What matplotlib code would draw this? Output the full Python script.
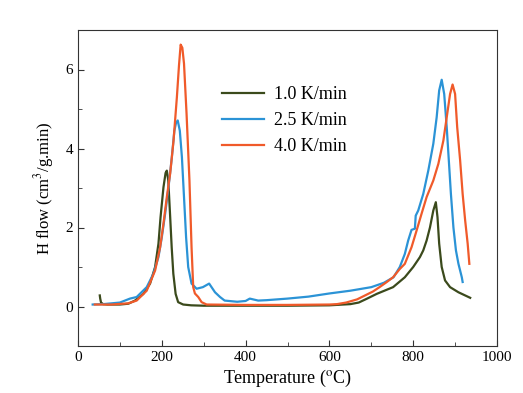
import matplotlib.pyplot as plt
from matplotlib.ticker import MultipleLocator

plt.rcParams['font.family'] = ['Liberation Serif', 'DejaVu Serif']
plt.rcParams['mathtext.fontset'] = 'stix'

# 1.0 K/min
green_t = [52, 53, 55, 60, 70, 100, 120, 136, 156, 172, 184, 192, 197, 204, 209, 212, 215.5, 219.6,
           223.6, 227.5, 233, 239, 251, 270, 300, 400, 500, 600, 650, 670, 690, 713, 752, 780, 800,
           816, 824, 832, 840, 848, 854, 858, 862, 868, 876, 888, 908, 924, 936]
green_h = [0.28, 0.2, 0.1, 0.06, 0.05, 0.05, 0.07, 0.15, 0.32, 0.58, 1.0, 1.59, 2.26, 3.02, 3.38,
           3.44, 3.19, 2.35, 1.5, 0.83, 0.32, 0.11, 0.05, 0.03, 0.02, 0.02, 0.02, 0.03, 0.06, 0.1,
           0.2, 0.32, 0.49, 0.74, 1.0, 1.25, 1.42, 1.67, 2.0, 2.43, 2.64, 2.26, 1.59, 1.0, 0.66,
           0.49, 0.36, 0.28, 0.22]

# 2.5 K/min
blue_t = [35, 60, 100, 124, 140, 164, 180, 192, 200, 208, 216, 224, 230, 234, 238, 243, 248, 253,
          258, 263, 271, 283, 298, 313, 327, 339, 350, 380, 400, 410, 418, 430, 450, 500, 550, 600,
          650, 700, 730, 753, 768, 780, 788, 796, 804, 806, 812, 824, 836, 848, 856, 862, 868, 874,
          880, 885, 890, 896, 902, 908, 912, 916, 918]
blue_h = [0.05, 0.06, 0.1, 0.2, 0.24, 0.49, 0.83, 1.25, 1.75, 2.35, 3.02, 3.78, 4.45, 4.65, 4.71,
          4.45, 3.78, 2.77, 1.75, 1.0, 0.58, 0.45, 0.49, 0.58, 0.36, 0.24, 0.15, 0.12, 0.14, 0.2,
          0.18, 0.15, 0.16, 0.2, 0.25, 0.33, 0.4, 0.49, 0.6, 0.74, 1.0, 1.33, 1.67, 1.94, 1.97,
          2.3, 2.43, 2.85, 3.44, 4.12, 4.79, 5.47, 5.74, 5.38, 4.54, 3.7, 2.85, 2.0, 1.42, 1.08,
          0.91, 0.74, 0.62]

# 4.0 K/min
red_t = [40, 80, 120, 140, 164, 184, 196, 204, 212, 220, 228, 236, 241, 245, 249, 253, 259, 266,
         271, 275, 279, 287, 295, 307, 400, 500, 600, 618, 640, 666, 704, 721, 737, 752, 768, 780,
         796, 808, 820, 832, 848, 860, 872, 880, 888, 894, 900, 905, 912, 918, 924, 930, 934]
red_h = [0.05, 0.05, 0.08, 0.15, 0.4, 0.91, 1.5, 2.1, 2.77, 3.37, 4.2, 5.3, 6.1, 6.63, 6.55, 6.15,
         4.9, 3.19, 1.5, 0.49, 0.33, 0.24, 0.11, 0.05, 0.04, 0.04, 0.05, 0.06, 0.1, 0.18, 0.38,
         0.5, 0.62, 0.74, 0.95, 1.08, 1.5, 1.92, 2.35, 2.77, 3.19, 3.61, 4.2, 4.79, 5.38, 5.62,
         5.38, 4.54, 3.7, 2.85, 2.18, 1.59, 1.08]

fig = plt.figure(figsize=(5.23, 3.93), dpi=100)
ax = fig.add_axes([78/523, 1-346/393, 419/523, 316/393])

ax.plot(green_t, green_h, c="#3b4a1c", lw=1.6, label="1.0 K/min")
ax.plot(blue_t, blue_h, c="#2b93d6", lw=1.6, label="2.5 K/min")
ax.plot(red_t, red_h, c="#f05a2a", lw=1.6, label="4.0 K/min")

ax.set_xlim(0, 1000)
ax.set_ylim(-1, 7)
ax.xaxis.set_major_locator(MultipleLocator(200))
ax.xaxis.set_minor_locator(MultipleLocator(100))
ax.yaxis.set_major_locator(MultipleLocator(2))
ax.yaxis.set_minor_locator(MultipleLocator(1))
ax.tick_params(which='both', direction='in', top=False, right=False, labelsize=11, color='#333333')
ax.tick_params(which='major', length=4)
ax.tick_params(which='minor', length=3)
for s in ax.spines.values():
    s.set_color('#333333')

ax.set_xlabel("Temperature ($^{\\rm o}$C)", fontsize=13, labelpad=3)
ax.set_ylabel("H flow (cm$^3$/g.min)", fontsize=12, labelpad=7)

ax.legend(loc='upper left', bbox_to_anchor=(0.305, 0.874), frameon=False, fontsize=13,
          handlelength=2.3, labelspacing=0.5, handletextpad=0.55)

plt.savefig("out.png")
